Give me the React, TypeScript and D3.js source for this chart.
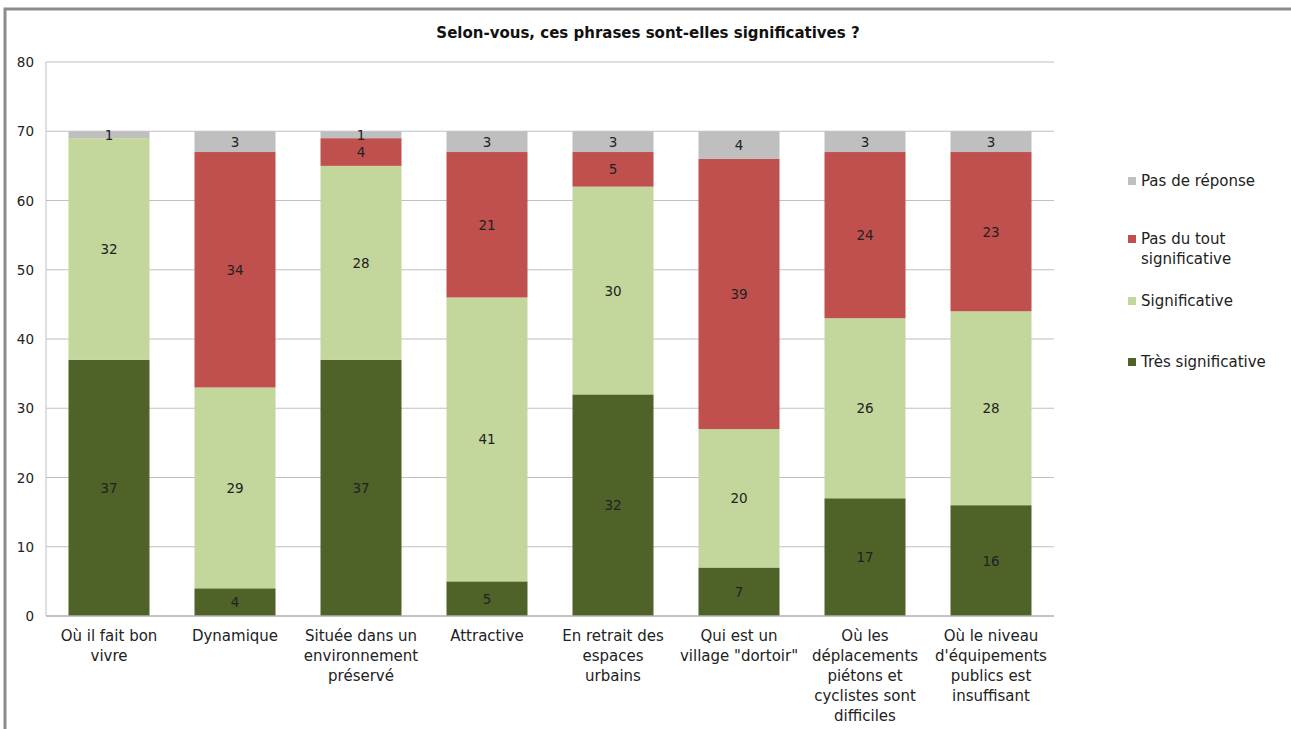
import { useEffect, useRef } from "react";
import * as d3 from "d3";

const categories = [
  "Où il fait bon vivre",
  "Dynamique",
  "Située dans un environnement préservé",
  "Attractive",
  "En retrait des espaces urbains",
  "Qui est un village \"dortoir\"",
  "Où les déplacements piétons et cyclistes sont difficiles",
  "Où le niveau d'équipements publics est insuffisant",
];

// line breaks as wrapped in the picture
const categoryLines = [
  ["Où il fait bon", "vivre"],
  ["Dynamique"],
  ["Située dans un", "environnement", "préservé"],
  ["Attractive"],
  ["En retrait des", "espaces", "urbains"],
  ["Qui est un", "village \"dortoir\""],
  ["Où les", "déplacements", "piétons et", "cyclistes sont", "difficiles"],
  ["Où le niveau", "d'équipements", "publics est", "insuffisant"],
];

const tresSignificative = [37, 4, 37, 5, 32, 7, 17, 16];
const significative = [32, 29, 28, 41, 30, 20, 26, 28];
const pasDuTout = [0, 34, 4, 21, 5, 39, 24, 23];
const pasDeReponse = [1, 3, 1, 3, 3, 4, 3, 3];

const seriesNames = [
  "Très significative",
  "Significative",
  "Pas du tout significative",
  "Pas de réponse",
];
const seriesColors = ["#4f6228", "#c3d69b", "#c0504d", "#bfbfbf"];
const yTicks = [0, 10, 20, 30, 40, 50, 60, 70, 80];

const W = 1291;
const H = 729;
const FONT = "'DejaVu Sans', sans-serif";

const App = () => {
  const svgRef = useRef<SVGSVGElement>(null);

  useEffect(() => {
    if (!svgRef.current) return;
    const svg = d3.select(svgRef.current);
    svg.selectAll("*").remove();

    const left = 46;
    const right = 1054;
    const top = 62;
    const bottom = 616;

    // chart frame
    svg
      .append("rect")
      .attr("x", 5)
      .attr("y", 9)
      .attr("width", W + 10)
      .attr("height", H + 10)
      .attr("fill", "white")
      .attr("stroke", "#8c8c8c")
      .attr("stroke-width", 3);

    svg
      .append("text")
      .attr("x", 648)
      .attr("y", 38)
      .attr("text-anchor", "middle")
      .attr("font-family", FONT)
      .attr("font-weight", "bold")
      .attr("font-size", 15)
      .attr("fill", "#111")
      .text("Selon-vous, ces phrases sont-elles significatives ?");

    const x = d3
      .scaleBand<number>()
      .domain(d3.range(categories.length))
      .range([left, right])
      .paddingInner(45 / 126)
      .paddingOuter(45 / 252);

    const y = d3.scaleLinear().domain([0, 80]).range([bottom, top]);

    // gridlines
    svg
      .append("g")
      .selectAll("line")
      .data(yTicks.filter((t) => t > 0))
      .enter()
      .append("line")
      .attr("x1", left)
      .attr("x2", right)
      .attr("y1", (d) => y(d))
      .attr("y2", (d) => y(d))
      .attr("stroke", "#c0c0c0")
      .attr("stroke-width", 1.2);

    // y tick labels
    svg
      .append("g")
      .selectAll("text")
      .data(yTicks)
      .enter()
      .append("text")
      .attr("x", 34)
      .attr("y", (d) => y(d) + 5)
      .attr("text-anchor", "end")
      .attr("font-family", FONT)
      .attr("font-size", 13.5)
      .attr("fill", "#222")
      .text((d) => d);

    const table = categories.map((_, i) => ({
      i,
      tres: tresSignificative[i],
      sig: significative[i],
      pas: pasDuTout[i],
      nr: pasDeReponse[i],
    }));
    const keys = ["tres", "sig", "pas", "nr"];
    const stacked = d3.stack<any>().keys(keys)(table);

    const layer = svg
      .append("g")
      .selectAll("g")
      .data(stacked)
      .enter()
      .append("g")
      .attr("fill", (_, k) => seriesColors[k]);

    layer
      .selectAll("rect")
      .data((s) => s.filter((d) => d[1] - d[0] > 0))
      .enter()
      .append("rect")
      .attr("x", (d) => x(d.data.i)!)
      .attr("width", x.bandwidth())
      .attr("y", (d) => y(d[1]))
      .attr("height", (d) => y(d[0]) - y(d[1]));

    layer
      .selectAll("text")
      .data((s) => s.filter((d) => d[1] - d[0] > 0))
      .enter()
      .append("text")
      .attr("x", (d) => x(d.data.i)! + x.bandwidth() / 2)
      .attr("y", (d) => y((d[0] + d[1]) / 2) + 5)
      .attr("text-anchor", "middle")
      .attr("font-family", FONT)
      .attr("font-size", 13.5)
      .attr("fill", "#222")
      .text((d) => d[1] - d[0]);

    // axis lines
    svg
      .append("line")
      .attr("x1", left)
      .attr("x2", right)
      .attr("y1", bottom)
      .attr("y2", bottom)
      .attr("stroke", "#b0b0b0")
      .attr("stroke-width", 1.5);
    svg
      .append("line")
      .attr("x1", left)
      .attr("x2", left)
      .attr("y1", top)
      .attr("y2", bottom)
      .attr("stroke", "#c0c0c0")
      .attr("stroke-width", 1);

    // category labels
    const cat = svg
      .append("g")
      .selectAll("text")
      .data(categoryLines)
      .enter()
      .append("text")
      .attr("text-anchor", "middle")
      .attr("font-family", FONT)
      .attr("font-size", 15)
      .attr("fill", "#222");
    cat
      .selectAll("tspan")
      .data((lines, i) => lines.map((l) => ({ l, i })))
      .enter()
      .append("tspan")
      .attr("x", (d) => x(d.i)! + x.bandwidth() / 2)
      .attr("y", (_, j) => 641 + j * 20)
      .text((d) => d.l);

    // legend, top to bottom in reverse stack order
    const legendY = [181, 239, 301, 362];
    const legendLines = [
      ["Pas de réponse"],
      ["Pas du tout", "significative"],
      ["Significative"],
      ["Très significative"],
    ];
    const lg = svg
      .append("g")
      .selectAll("g")
      .data(legendLines)
      .enter()
      .append("g")
      .attr("transform", (_, i) => `translate(1128,${legendY[i]})`);
    lg.append("rect")
      .attr("x", 0)
      .attr("y", -4)
      .attr("width", 8)
      .attr("height", 8)
      .attr("fill", (_, i) => seriesColors[3 - i]);
    lg.append("text")
      .attr("font-family", FONT)
      .attr("font-size", 15)
      .attr("fill", "#222")
      .selectAll("tspan")
      .data((d) => d)
      .enter()
      .append("tspan")
      .attr("x", 13)
      .attr("y", (_, j) => 5 + j * 20)
      .text((d) => d);
  }, []);

  return (
    <div style={{ position: "absolute", left: 0, top: 0 }}>
      <svg
        ref={svgRef}
        width={W}
        height={H}
        aria-label={seriesNames.join(", ")}
        style={{ display: "block", background: "white" }}
      />
    </div>
  );
};

export default App;
